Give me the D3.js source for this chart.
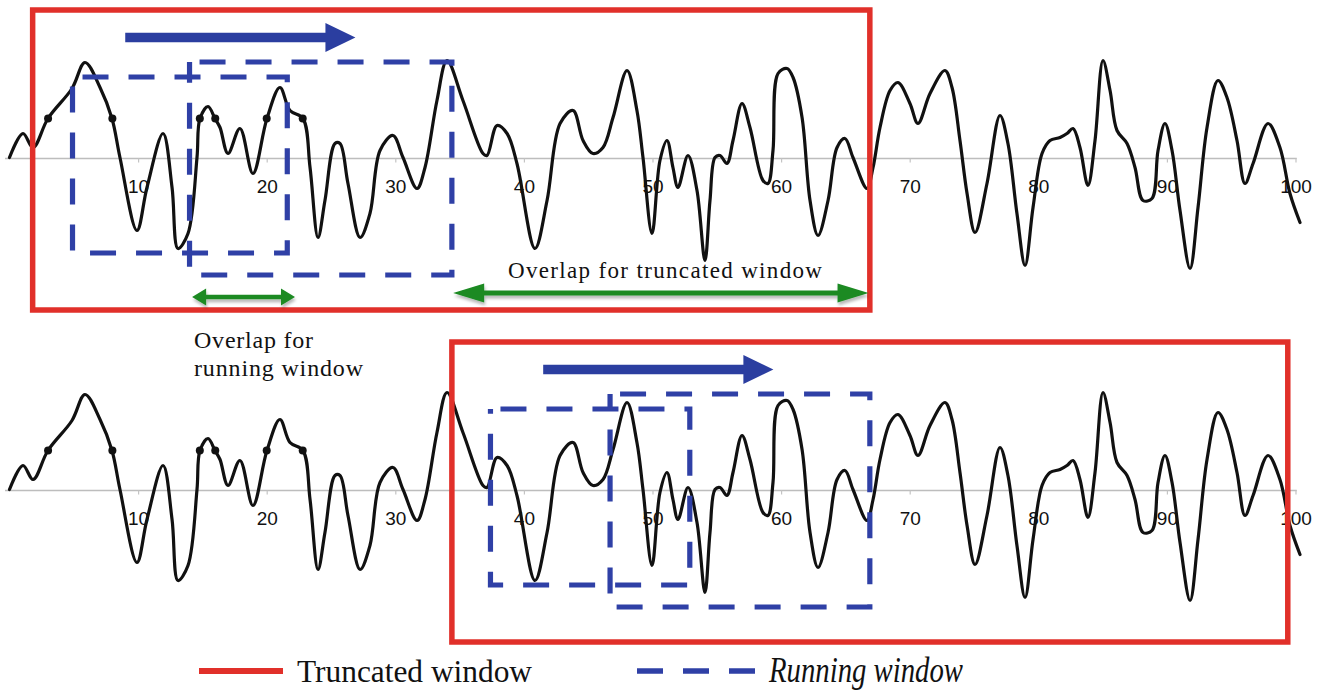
<!DOCTYPE html>
<html><head><meta charset="utf-8">
<script src="https://cdn.jsdelivr.net/npm/d3@7"></script>
<style>body{margin:0;background:#fff}svg{display:block}</style>
</head><body>
<svg id="chart" width="1323" height="692"></svg>
<script>
// ---------- data ----------
const xTicks = [10, 20, 30, 40, 50, 60, 70, 80, 90, 100];
const signalX = [0, 1.05, 1.83, 2.99, 4.86, 5.87, 7.04, 7.97, 8.59, 9.91, 10.69, 11.94, 12.64, 13.10, 13.88, 14.58, 14.81, 15.44, 15.98, 16.37, 16.99, 17.92, 18.93, 20.02, 21.03, 21.81, 22.82, 23.37, 23.99, 24.53, 25.31, 25.70, 26.32, 27.26, 28.03, 28.81, 29.82, 30.60, 31.69, 32.31, 33.24, 34.02, 35.26, 36.82, 37.13, 37.91, 38.69, 39.46, 40.86, 41.80, 42.81, 43.82, 44.60, 45.37, 46.15, 46.93, 48.02, 48.79, 49.26, 49.96, 50.58, 51.13, 51.59, 51.98, 52.76, 53.46, 54.08, 54.47, 54.86, 55.25, 55.79, 56.26, 56.96, 57.58, 58.59, 58.98, 59.37, 59.76, 60.46, 60.93, 61.63, 62.25, 62.87, 63.65, 64.35, 64.97, 65.59, 66.68, 67.15, 67.69, 68.47, 69.09, 70.02, 70.64, 71.58, 72.74, 73.29, 73.91, 74.46, 75.08, 76.01, 77.02, 77.64, 78.34, 78.97, 79.59, 80.29, 80.91, 81.69, 82.23, 82.70, 83.24, 83.86, 84.41, 85.03, 85.58, 86.12, 86.90, 87.52, 88.14, 88.84, 89.31, 89.85, 90.40, 91.02, 91.80, 92.42, 93.12, 93.97, 94.67, 95.45, 96.07, 96.70, 97.86, 98.79, 99.57, 100.35];
const signalY = [1, 25, 11, 40, 70, 96, 71, 40, 1, -72, -29, 25, -29, -90, -75, 1, 40, 52, 40, 31, 5, 30, -15, 40, 71, 48, 40, -9, -79, -42, 15, 15, -25, -79, -55, 8, 23, 1, -30, -9, 58, 98, 58, 5, 3, 33, 25, -5, -90, -42, 35, 48, 18, 5, 11, 41, 88, 48, 1, -75, -2, 18, -9, -29, 3, -32, -102, -42, 1, 3, -5, 18, 55, 31, -22, -25, 8, 85, 90, 81, 41, -42, -77, -42, 11, 20, 1, -30, -9, 31, 68, 76, 55, 35, 65, 88, 71, 18, -35, -74, -25, 43, 15, -55, -107, -49, 5, 18, 21, 25, 30, 11, -27, 18, 98, 68, 28, 15, -9, -42, -40, 8, 35, 8, -52, -110, -49, 31, 78, 61, 18, -25, -5, 35, 11, -35, -64];
const markerX = [3.0, 8.0, 14.8, 16.0, 20.0, 22.8];
const markerY = [40, 40, 40, 40, 40, 40];

// windows (one entry per panel)
const truncStart = [1.8, 34.4];
const truncEnd = [66.9, 99.4];
const truncTop = 148.5, truncBottom = -151.5;
const runStart = [[4.9, 14.0], [37.4, 46.7]];
const runEnd = [[21.6, 34.4], [52.9, 66.9]];
const runTop = [81.5, 96.5];
const runBottom = [-94.5, -116.5];
const moveStart = [9.0, 41.5];
const moveEnd = [26.9, 59.4];
const moveLevel = 121;
const overlapRunning = [14.2, 22.2];
const overlapRunningLevel = -138.5;
const overlapTruncated = [34.5, 66.8];
const overlapTruncatedLevel = -134.5;
const legendLabels = ["Truncated window", "Running window"];
const overlapTruncLabel = "Overlap for truncated window";
const overlapRunLabel = ["Overlap for", "running window"];

// ---------- layout ----------
const svg = d3.select("#chart");
const axisY = [158.5, 490.5];
const RED = "#e1302a", BLUE = "#2f40a6", ARROWBLUE = "#2b3ea0", GREEN = "#1b8a22";
const x = d3.scaleLinear().domain([0, 100]).range([9.5, 1295.5]);
const y = d3.scaleLinear().domain([-160, 160]).range([160, -160]);

const defs = svg.append("defs");
const f = defs.append("filter").attr("id", "sh").attr("x", "-10%").attr("y", "-50%").attr("width", "120%").attr("height", "250%");
f.append("feDropShadow").attr("dx", 1).attr("dy", 3).attr("stdDeviation", 1.5).attr("flood-color", "#000").attr("flood-opacity", 0.28);

const line = d3.line().x(d => x(d[0])).y(d => y(d[1])).curve(d3.curveCatmullRom.alpha(0.5));
const pts = signalX.map((v, i) => [v, signalY[i]]);

function arrowPath(x0, x1, yc, shaft, headLen, headH, dbl) {
  const p = d3.path();
  const h = shaft / 2, H = headH / 2;
  const a = dbl ? x0 + headLen : x0;
  const b = x1 - headLen;
  if (dbl) { p.moveTo(x0, yc); p.lineTo(a, yc - H); p.lineTo(a, yc - h); }
  else { p.moveTo(a, yc - h); }
  p.lineTo(b, yc - h); p.lineTo(b, yc - H); p.lineTo(x1, yc); p.lineTo(b, yc + H); p.lineTo(b, yc + h);
  if (dbl) { p.lineTo(a, yc + h); p.lineTo(a, yc + H); } else { p.lineTo(a, yc + h); }
  p.closePath();
  return p.toString();
}

axisY.forEach((ay, pi) => {
  const g = svg.append("g").attr("transform", `translate(0,${ay})`);
  // baseline
  g.append("line").attr("x1", x(-0.35)).attr("x2", x(100.1)).attr("y1", 0).attr("y2", 0)
    .attr("stroke", "#bdbdbd").attr("stroke-width", 1.5);
  const ax = g.append("g").call(d3.axisBottom(x).tickValues(xTicks).tickSize(4).tickSizeOuter(0).tickPadding(17));
  ax.select(".domain").remove();
  ax.selectAll(".tick line").attr("stroke", "#c4c4c4").attr("stroke-width", 1.2);
  ax.selectAll(".tick text").attr("fill", "#111").attr("font-size", 19)
    .attr("font-family", "Liberation Sans, Arial, sans-serif");

  // signal
  g.append("path").datum(pts).attr("d", line).attr("fill", "none")
    .attr("stroke", "#111").attr("stroke-width", 3.2).attr("stroke-linejoin", "round").attr("stroke-linecap", "round");
  g.selectAll("circle.m").data(markerX).join("circle").attr("class", "m")
    .attr("cx", d => x(d)).attr("cy", (d, i) => y(markerY[i])).attr("r", 4).attr("fill", "#111");

  // running windows (blue dashed)
  runStart[pi].forEach((s, k) => {
    g.append("rect").attr("x", x(s)).attr("y", y(runTop[k]))
      .attr("width", x(runEnd[pi][k]) - x(s)).attr("height", y(runBottom[k]) - y(runTop[k]))
      .attr("fill", "none").attr("stroke", BLUE).attr("stroke-width", 5.2)
      .attr("stroke-dasharray", "26,20").attr("stroke-dashoffset", -10);
  });

  // truncated window (red)
  g.append("rect").attr("x", x(truncStart[pi])).attr("y", y(truncTop))
    .attr("width", x(truncEnd[pi]) - x(truncStart[pi])).attr("height", y(truncBottom) - y(truncTop))
    .attr("fill", "none").attr("stroke", RED).attr("stroke-width", 5.5);

  // moving arrow
  g.append("path").attr("d", arrowPath(x(moveStart[pi]), x(moveEnd[pi]), y(moveLevel), 9.5, 30, 29, false))
    .attr("fill", ARROWBLUE);

  if (pi === 0) {
    g.append("path").attr("d", arrowPath(x(overlapRunning[0]), x(overlapRunning[1]), y(overlapRunningLevel), 4.5, 14, 17, true))
      .attr("fill", GREEN).attr("filter", "url(#sh)");
    g.append("path").attr("d", arrowPath(x(overlapTruncated[0]), x(overlapTruncated[1]), y(overlapTruncatedLevel), 5, 31, 19, true))
      .attr("fill", GREEN).attr("filter", "url(#sh)");
    g.append("text").attr("x", x(38.76)).attr("y", y(-119.5)).text(overlapTruncLabel)
      .attr("font-family", "Liberation Serif, Times New Roman, serif").attr("font-size", 23)
      .attr("fill", "#111").attr("textLength", 314).attr("lengthAdjust", "spacing");
  }
});

// running overlap label
svg.append("g").selectAll("text").data(overlapRunLabel).join("text")
  .attr("x", 194).attr("y", (d, i) => 347.5 + i * 28.5).text(d => d)
  .attr("font-family", "Liberation Serif, Times New Roman, serif").attr("font-size", 24).attr("fill", "#111")
  .attr("textLength", (d, i) => [119, 169][i]).attr("lengthAdjust", "spacing");

// legend
const lg = svg.append("g");
lg.append("line").attr("x1", 199).attr("x2", 283).attr("y1", 671).attr("y2", 671).attr("stroke", RED).attr("stroke-width", 6);
lg.append("text").attr("x", 297).attr("y", 682).text(legendLabels[0])
  .attr("font-family", "Liberation Serif, Times New Roman, serif").attr("font-size", 32.5).attr("fill", "#111")
  .attr("textLength", 235).attr("lengthAdjust", "spacingAndGlyphs");
lg.append("line").attr("x1", 637).attr("x2", 757).attr("y1", 671).attr("y2", 671).attr("stroke", BLUE)
  .attr("stroke-width", 5.5).attr("stroke-dasharray", "26,20");
lg.append("text").attr("x", 769).attr("y", 682).text(legendLabels[1])
  .attr("font-family", "Liberation Serif, Times New Roman, serif").attr("font-style", "italic").attr("font-size", 35).attr("fill", "#111")
  .attr("textLength", 194).attr("lengthAdjust", "spacingAndGlyphs");
</script>
</body></html>
